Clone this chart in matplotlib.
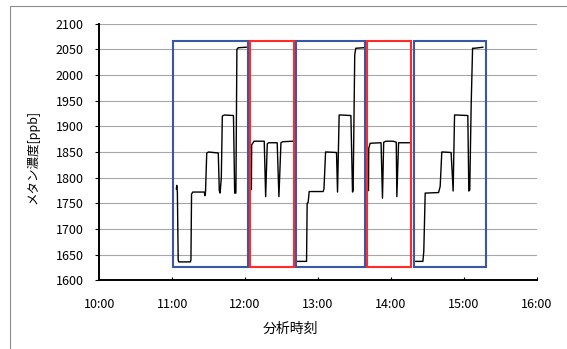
import numpy as np
import matplotlib
matplotlib.use("Agg")
import matplotlib.pyplot as plt
from matplotlib.patches import Rectangle

plt.rcParams['font.family'] = ['Noto Sans CJK JP', 'DejaVu Sans']

# measured methane, one run per window, None = gap between windows
times = [
    "11:03:30", "11:03:50", "11:04:20", "11:05:00", "11:05:30", "11:15:00", "11:15:30",
    "11:16:00", "11:17:00", "11:26:30", "11:27:00", "11:27:30", "11:28:30", "11:30:00",
    "11:38:00", "11:38:50", "11:39:30", "11:40:30", "11:41:20", "11:43:00", "11:50:30",
    "11:51:30", "11:52:30", "11:53:20", "11:54:30", "12:01:00",
    None,
    "12:05:15", "12:05:30", "12:07:30", "12:15:50", "12:17:00", "12:18:20", "12:19:30",
    "12:26:30", "12:27:55", "12:29:35", "12:31:00", "12:39:40",
    None,
    "12:43:00", "12:50:40", "12:51:10", "12:52:00", "12:52:50", "13:04:20", "13:05:00",
    "13:06:20", "13:07:30", "13:15:20", "13:16:10", "13:17:30", "13:19:00", "13:27:10",
    "13:28:30", "13:29:00", "13:30:20", "13:31:10", "13:37:50",
    None,
    "13:41:40", "13:41:50", "13:43:00", "13:52:00", "13:53:10", "13:54:10", "13:56:00",
    "14:02:00", "14:04:30", "14:05:00", "14:06:25", "14:08:00", "14:15:55",
    None,
    "14:20:10", "14:26:25", "14:27:10", "14:28:20", "14:29:00", "14:39:20", "14:40:40",
    "14:42:00", "14:43:00", "14:49:40", "14:51:20", "14:52:30", "14:54:00", "15:03:25",
    "15:04:15", "15:05:00", "15:06:10", "15:07:20", "15:09:00", "15:15:45",
]
methane = [
    1778, 1785, 1772, 1640, 1636, 1636, 1640,
    1768, 1772, 1772, 1765, 1772, 1848, 1850,
    1848, 1775, 1770, 1800, 1920, 1922, 1921,
    1770, 1770, 2050, 2053, 2054,
    None,
    1777, 1864, 1871, 1871, 1763, 1866, 1868,
    1868, 1763, 1868, 1870, 1871,
    None,
    1637, 1637, 1750, 1752, 1773, 1773, 1778,
    1850, 1850, 1849, 1772, 1922, 1922, 1921,
    1772, 1775, 2039, 2052, 2053,
    None,
    1775, 1857, 1867, 1868, 1760, 1869, 1871,
    1871, 1869, 1763, 1868, 1868, 1868,
    None,
    1637, 1637, 1656, 1770, 1770, 1771, 1783,
    1850, 1850, 1849, 1774, 1922, 1922, 1921,
    1774, 1776, 1940, 2052, 2052, 2054,
]

# sampling windows (start, end)
blue_windows = [("11:00:55", "12:02:10"), ("12:41:55", "13:38:40"), ("14:19:00", "15:18:30")]
red_windows = [("12:04:00", "12:40:30"), ("13:40:20", "14:16:50")]
window_low, window_high = 1627, 2066

x_ticks = ["10:00", "11:00", "12:00", "13:00", "14:00", "15:00", "16:00"]


def hours(s):
    if s is None:
        return np.nan
    parts = [float(p) for p in s.split(":")]
    while len(parts) < 3:
        parts.append(0.0)
    return parts[0] + parts[1] / 60 + parts[2] / 3600


t = np.array([hours(s) for s in times])
v = np.array([np.nan if m is None else m for m in methane], dtype=float)

fig = plt.figure(figsize=(5.67, 3.49), dpi=100)
ax = fig.add_axes([0.175, 0.1966, 0.7713, 0.7358])

fig.patches.append(Rectangle((10 / 567, -0.05), 1.2, (343 / 349) + 0.05, transform=fig.transFigure,
                             fill=False, edgecolor='#8c8c8c', lw=0.8))

ax.plot(t, v, color='black', lw=1.0, zorder=3)

for (a, b) in blue_windows:
    ax.add_patch(Rectangle((hours(a), window_low), hours(b) - hours(a), window_high - window_low,
                           fill=False, edgecolor='#3a56a6', lw=1.5, zorder=4))
for (a, b) in red_windows:
    ax.add_patch(Rectangle((hours(a), window_low), hours(b) - hours(a), window_high - window_low,
                           fill=False, edgecolor='#ff2b2b', lw=1.5, zorder=4))

ax.set_xlim(hours("10:00"), hours("16:00"))
ax.set_ylim(1600, 2100)
ax.set_xticks([hours(s) for s in x_ticks])
ax.set_xticklabels(x_ticks)
ax.set_yticks(np.arange(1600, 2101, 50))

ax.yaxis.grid(True, color='#a6a6a6', lw=0.8)
ax.set_axisbelow(True)
for s in ['top', 'right']:
    ax.spines[s].set_visible(False)
for s in ['left', 'bottom']:
    ax.spines[s].set_linewidth(1.4)
    ax.spines[s].set_color('black')

ax.tick_params(axis='y', direction='out', length=3, width=0.8, pad=8, labelsize=9, colors='black')
ax.tick_params(axis='x', direction='in', length=2.5, width=0.8, pad=13, labelsize=9, colors='black')

fig.text(290 / 567, 1 - 329 / 349, "分析時刻", ha='center', va='center', fontsize=10)
fig.text(33 / 567, 1 - 157 / 349, "メタン濃度[ppb]", ha='center', va='center', rotation=90, fontsize=9)

fig.savefig("out.png", dpi=100)
